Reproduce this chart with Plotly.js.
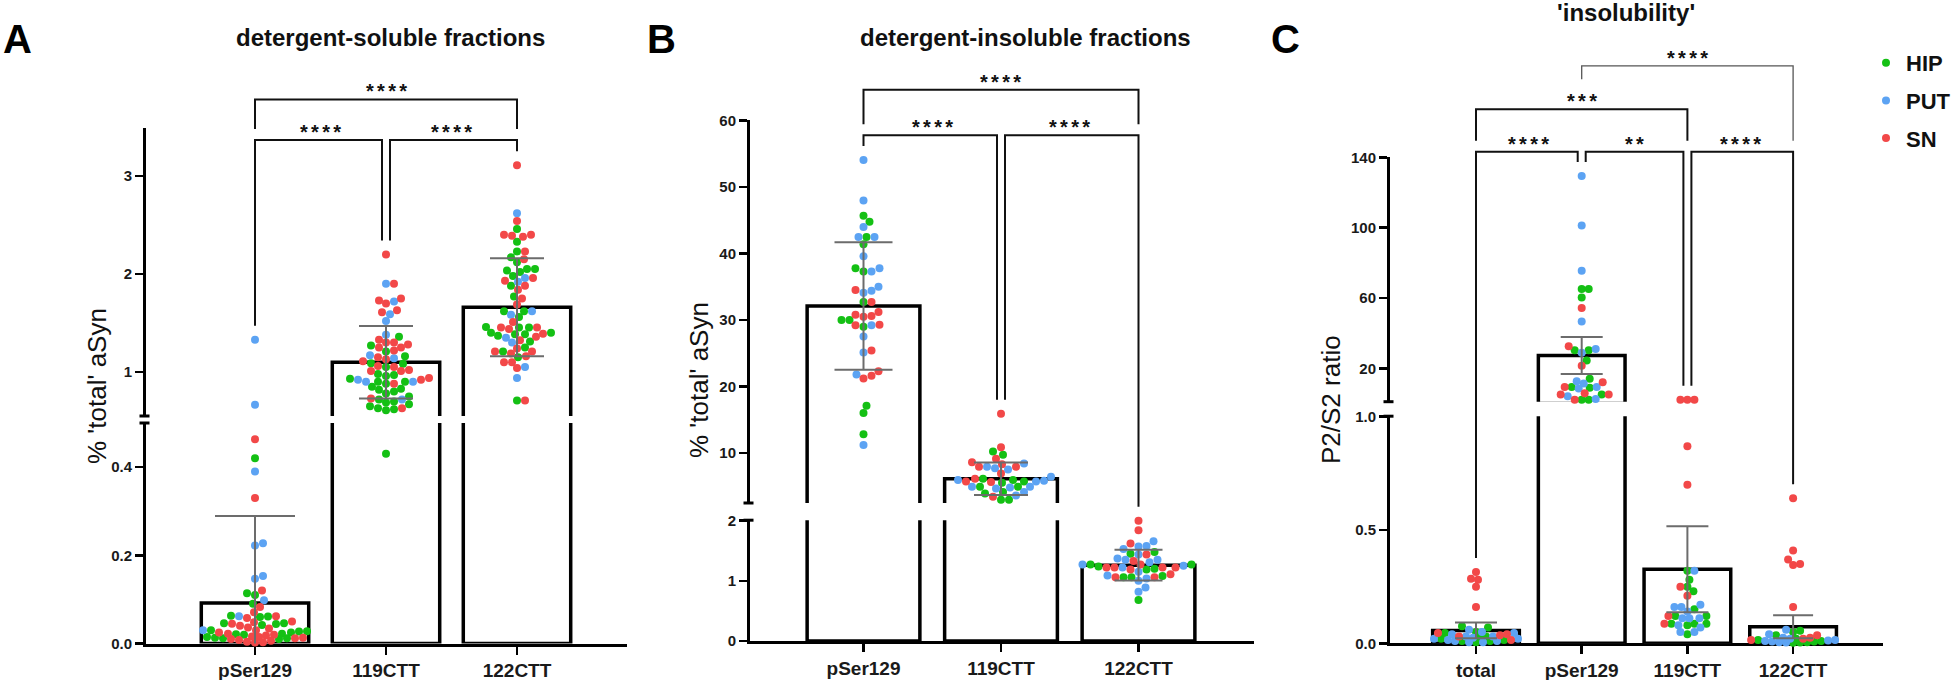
<!DOCTYPE html>
<html>
<head>
<meta charset="utf-8">
<script src="https://cdn.plot.ly/plotly-3.0.1.min.js"></script>
<style>
  body { margin: 0; background: #fff; }
  #chart { width: 1960px; height: 680px; }
</style>
</head>
<body>
<div id="chart"></div>
<script>
const W = 1960, H = 680;
const FONT = 'Arial, "Liberation Sans", sans-serif';
const REGIONS = ['HIP', 'PUT', 'SN'];
const COLORS = {HIP: '#14c014', PUT: '#5ca3f3', SN: '#f24848'};

// ---- A: detergent-soluble fractions ----
const A_CATS = ['pSer129', '119CTT', '122CTT'];
const A_MEAN = [0.092, 1.10, 1.66];
const A_SD = [0.197, 0.37, 0.50];
const A_HIP = [
  [0.114, 0.11, 0.09, 0.063, 0.061, 0.06, 0.046, 0.046, 0.044, 0.042, 0.03, 0.028, 0.027, 0.025, 0.022, 0.021, 0.02, 0.015, 0.013, 0.012, 0.012, 0.01, 0.42],
  [1.36, 1.27, 1.21, 1.16, 1.09, 1.085, 1.05, 0.98, 0.97, 0.96, 0.93, 0.90, 0.90, 0.88, 0.85, 0.83, 0.82, 0.80, 0.78, 0.75, 0.72, 0.70, 0.69, 0.67, 0.65, 0.63, 0.62, 0.61, 0.43],
  [2.46, 2.33, 2.23, 2.17, 2.12, 2.05, 2.05, 2.035, 2.02, 1.98, 1.88, 1.77, 1.62, 1.62, 1.56, 1.46, 1.455, 1.455, 1.40, 1.40, 1.385, 1.385, 1.37, 1.31, 1.25, 1.21, 1.15, 0.71]
];
const A_PUT = [
  [1.33, 0.665, 0.39, 0.227, 0.222, 0.153, 0.147, 0.098, 0.062, 0.03],
  [1.90, 1.72, 1.59, 1.52, 1.38, 1.17, 1.14, 0.92, 0.90, 0.90, 0.72],
  [2.62, 1.96, 1.92, 1.62, 1.585, 1.35, 1.30, 1.05, 0.94]
];
const A_SN = [
  [0.463, 0.33, 0.12, 0.083, 0.071, 0.062, 0.058, 0.05, 0.048, 0.045, 0.04, 0.036, 0.034, 0.03, 0.025, 0.022, 0.02, 0.018, 0.016, 0.015, 0.013, 0.012, 0.01, 0.008, 0.006, 0.004, 0.003, 0.002],
  [2.20, 1.90, 1.75, 1.73, 1.70, 1.63, 1.61, 1.33, 1.30, 1.30, 1.28, 1.25, 1.25, 1.22, 1.15, 1.13, 1.11, 1.06, 1.05, 1.02, 1.01, 1.01, 0.94, 0.92, 0.88, 0.73, 0.63],
  [3.11, 2.54, 2.40, 2.40, 2.39, 2.38, 2.23, 2.15, 1.96, 1.93, 1.88, 1.84, 1.75, 1.69, 1.51, 1.455, 1.455, 1.44, 1.39, 1.36, 1.325, 1.24, 1.21, 1.21, 1.19, 1.16, 1.10, 1.10, 1.04, 0.71]
];
const A_COMPS = [[0, 1, '****', 0], [1, 2, '****', 0], [0, 2, '****', 1]];
const A_LOW_TICKS = [0, 0.2, 0.4];
const A_LOW_TEXT = ['0.0', '0.2', '0.4'];
const A_UP_TICKS = [1, 2, 3];

// ---- B: detergent-insoluble fractions ----
const B_CATS = ['pSer129', '119CTT', '122CTT'];
const B_MEAN = [32.1, 6.1, 1.26];
const B_SD = [9.6, 2.45, 0.255];
const B_HIP = [
  [45.7, 44.8, 42.5, 41.4, 37.8, 37.3, 32.7, 30.0, 30.0, 29.0, 17.1, 16.0, 12.8],
  [10.2, 9.7, 6.1, 5.9, 5.7, 5.5, 4.9, 4.9, 4.1, 3.9, 2.95, 2.95],
  [1.48, 1.45, 1.27, 1.27, 1.24, 1.20, 1.19, 1.08, 1.06, 1.06, 0.68]
];
const B_PUT = [
  [54.1, 48.0, 44.0, 42.5, 42.5, 39.6, 37.8, 37.3, 35.0, 34.4, 34.1, 29.2, 27.5, 25.1, 21.8, 11.2],
  [8.4, 7.9, 7.7, 7.5, 6.4, 5.9, 5.8, 5.7, 4.9, 4.9, 4.8, 4.65, 4.1, 3.6],
  [1.66, 1.58, 1.57, 1.53, 1.44, 1.37, 1.35, 1.35, 1.31, 1.27, 1.25, 1.22, 1.15, 1.09, 1.04, 1.0, 0.89, 0.82]
];
const B_SN = [
  [34.5, 32.7, 31.2, 30.8, 30.6, 30.5, 29.3, 29.2, 25.4, 22.3, 21.6, 21.2],
  [15.9, 10.85, 9.1, 8.6, 8.3, 7.9, 7.9, 6.9, 6.1, 5.7, 5.6, 3.4],
  [2.0, 1.84, 1.62, 1.44, 1.33, 1.27, 1.22, 1.22, 1.22, 1.22, 1.19, 1.11, 1.06, 1.06]
];
const B_COMPS = [[0, 1, '****', 0], [1, 2, '****', 0], [0, 2, '****', 1]];
const B_LOW_TICKS = [0, 1, 2];
const B_LOW_TEXT = ['0', '1', '2'];
const B_UP_TICKS = [10, 20, 30, 40, 50, 60];

// ---- C: 'insolubility' ----
const C_CATS = ['total', 'pSer129', '119CTT', '122CTT'];
const C_MEAN = [0.057, 27.3, 0.327, 0.073];
const C_SD = [0.035, 10.5, 0.19, 0.051];
const C_HIP = [
  [0.075, 0.07, 0.05, 0.045, 0.03, 0.025, 0.02, 0.015, 0.01, 0.01, 0.005],
  [65.1, 65.1, 60.2, 30.3, 30.3, 24.4, 14.0, 9.4, 9.0, 5.1, 2.1, 2.1],
  [0.32, 0.28, 0.25, 0.23, 0.15, 0.12, 0.12, 0.086, 0.086, 0.086, 0.08, 0.04],
  [0.055, 0.05, 0.035, 0.02, 0.015, 0.01, 0.008, 0.005, 0.003, 0.002]
];
const C_PUT = [
  [0.06, 0.05, 0.045, 0.04, 0.03, 0.03, 0.025, 0.02, 0.02, 0.015, 0.01, 0.01, 0.005, 0.005],
  [129.4, 101.2, 75.5, 46.6, 31.0, 28.8, 12.7, 11.3, 9.4, 8.5, 4.1, 2.6],
  [0.32, 0.17, 0.16, 0.16, 0.14, 0.11, 0.11, 0.11, 0.08, 0.07, 0.05, 0.05],
  [0.06, 0.04, 0.025, 0.02, 0.015, 0.012, 0.01, 0.008, 0.005, 0.003]
];
const C_SN = [
  [0.315, 0.285, 0.28, 0.25, 0.16, 0.045, 0.04, 0.035, 0.03, 0.015],
  [54.3, 32.5, 21.4, 12.0, 9.4, 5.8, 5.1, 5.1, 2.1],
  [2.1, 2.1, 2.1, 0.87, 0.70, 0.25, 0.21, 0.12, 0.086],
  [0.64, 0.41, 0.37, 0.35, 0.345, 0.16, 0.035, 0.025, 0.02, 0.015]
];
const C_COMPS = [[0, 1, '****', 0], [1, 2, '**', 0], [2, 3, '****', 0], [0, 2, '***', 1], [1, 3, '****', 2]];
const C_LOW_TICKS = [0, 0.5, 1];
const C_LOW_TEXT = ['0.0', '0.5', '1.0'];
const C_UP_TICKS = [20, 60, 100, 140];

// ---- page layout of the three panels (pixels) ----
const panels = [
  {cats: A_CATS, mean: A_MEAN, sd: A_SD, pts: {HIP: A_HIP, PUT: A_PUT, SN: A_SN}, comps: A_COMPS,
   lowTicks: A_LOW_TICKS, lowText: A_LOW_TEXT, upTicks: A_UP_TICKS,
   axisX: 146, endX: 627, cat0: 255, step: 131, dotGap: 7.5, swarmHalf: 52,
   low: {top: 423, bot: 643.5, ref: [[643.5, 0], [467, 0.4]]},
   up: {top: 128, bot: 416, ref: [[176, 3], [372, 1]]},
   rowY: [140, 99.5], capHalf: [40, 27, 27],
   title: 'detergent-soluble fractions', titleX: 390, titleY: 37,
   letter: 'A', letterX: 17, letterY: 39,
   ytitle: "% 'total' aSyn", ytitleX: 97, ytitleY: 386},
  {cats: B_CATS, mean: B_MEAN, sd: B_SD, pts: {HIP: B_HIP, PUT: B_PUT, SN: B_SN}, comps: B_COMPS,
   lowTicks: B_LOW_TICKS, lowText: B_LOW_TEXT, upTicks: B_UP_TICKS,
   axisX: 750, endX: 1254, cat0: 863.5, step: 137.5, dotGap: 7.8, swarmHalf: 58,
   low: {top: 520.2, bot: 641, ref: [[641, 0], [520.7, 2]]},
   up: {top: 120.2, bot: 503, ref: [[120.7, 60], [320, 30]]},
   rowY: [135.3, 89.8], capHalf: [29, 27, 24],
   title: 'detergent-insoluble fractions', titleX: 1025, titleY: 37,
   letter: 'B', letterX: 661, letterY: 39,
   ytitle: "% 'total' aSyn", ytitleX: 699, ytitleY: 380},
  {cats: C_CATS, mean: C_MEAN, sd: C_SD, pts: {HIP: C_HIP, PUT: C_PUT, SN: C_SN}, comps: C_COMPS,
   lowTicks: C_LOW_TICKS, lowText: C_LOW_TEXT, upTicks: C_UP_TICKS,
   axisX: 1390, endX: 1883, cat0: 1476, step: 105.7, dotGap: 7, swarmHalf: 43,
   low: {top: 416.2, bot: 643.3, ref: [[643.3, 0], [416.7, 1]]},
   up: {top: 157, bot: 401.7, ref: [[157.3, 140], [368.3, 20]]},
   rowY: [151.8, 109.3, 65.9], capHalf: [21, 21, 21, 20], thinRow: 2,
   title: "'insolubility'", titleX: 1626, titleY: 12,
   letter: 'C', letterX: 1285, letterY: 39,
   ytitle: 'P2/S2 ratio', ytitleX: 1331, ytitleY: 400}
];

const fx = px => px / W;
const fy = py => 1 - py / H;
const axId = n => (n === 1 ? '' : String(n));

// value <-> pixel for one axis segment
function segSetup(seg) {
  const [[p1, v1], [p2, v2]] = seg.ref;
  const k = (v2 - v1) / (p2 - p1);
  seg.range = [v1 + (seg.bot - p1) * k, v1 + (seg.top - p1) * k];
  seg.px = v => seg.bot - (v - seg.range[0]) / (seg.range[1] - seg.range[0]) * (seg.bot - seg.top);
}

// beeswarm in pixel space: nearest free spot to the centre line within +-half,
// falling back to the least crowded spot when the row is full
function swarm(pys, D, half) {
  const order = pys.map((_, i) => i).sort((a, b) => pys[b] - pys[a]);
  const placed = [];
  const offs = new Array(pys.length).fill(0);
  const cands = [0];
  for (let c = 1; c <= half; c++) cands.push(c, -c);
  order.forEach(i => {
    let best = 0, bestD = -1;
    for (const c of cands) {
      let dmin = Infinity;
      for (const q of placed) dmin = Math.min(dmin, Math.hypot(q.x - c, q.y - pys[i]));
      if (dmin >= D) { best = c; bestD = dmin; break; }
      if (dmin > bestD + 0.01) { best = c; bestD = dmin; }
    }
    offs[i] = best;
    placed.push({x: best, y: pys[i]});
  });
  return offs;
}

const traces = [];
const shapes = [];
const annotations = [];
const layout = {
  width: W, height: H,
  margin: {l: 0, r: 0, t: 0, b: 0, pad: 0},
  paper_bgcolor: '#fff', plot_bgcolor: 'rgba(0,0,0,0)',
  showlegend: true,
  legend: {x: 1866 / W, y: fy(42), xanchor: 'left', yanchor: 'top',
           font: {family: FONT, size: 22, weight: 'bold', color: '#111'},
           bgcolor: 'rgba(0,0,0,0)', tracegroupgap: 6, itemwidth: 30},
  bargap: 0,
  shapes: shapes,
  annotations: annotations
};

panels.forEach((p, pi) => {
  segSetup(p.low);
  segSetup(p.up);
  const nl = 2 * pi + 1, nu = 2 * pi + 2;
  const xl = 'x' + axId(nl), xu = 'x' + axId(nu), yl = 'y' + axId(nl), yu = 'y' + axId(nu);
  const xRange = [(p.axisX - p.cat0) / p.step, (p.endX - p.cat0) / p.step];
  const xDom = [fx(p.axisX), fx(p.endX)];
  const idx = p.cats.map((_, i) => i);
  const segOf = v => (v >= p.up.range[0] ? 'up' : 'low');
  const catX = i => p.cat0 + i * p.step;

  const yBase = {
    showline: true, linewidth: 3, linecolor: '#000', ticks: 'outside', ticklen: 8,
    tickwidth: 2.5, tickcolor: '#000', showgrid: false, zeroline: false, fixedrange: true,
    tickfont: {family: FONT, size: 15, weight: 'bold', color: '#1a1a1a'}
  };
  layout['xaxis' + axId(nl)] = {
    domain: xDom, range: xRange, anchor: yl, showline: true, linewidth: 3, linecolor: '#000',
    ticks: 'outside', ticklen: 8, tickwidth: 2.5, tickcolor: '#000', showgrid: false,
    zeroline: false, fixedrange: true, layer: 'below traces',
    tickvals: idx, ticktext: p.cats,
    tickfont: {family: FONT, size: 19, weight: 'bold', color: '#1a1a1a'}
  };
  layout['xaxis' + axId(nu)] = {domain: xDom, range: xRange, anchor: yu, visible: false, fixedrange: true};
  layout['yaxis' + axId(nl)] = Object.assign({}, yBase, {
    domain: [fy(p.low.bot), fy(p.low.top)], range: p.low.range, anchor: xl,
    tickvals: p.lowTicks, ticktext: p.lowText
  });
  layout['yaxis' + axId(nu)] = Object.assign({}, yBase, {
    domain: [fy(p.up.bot), fy(p.up.top)], range: p.up.range, anchor: xu,
    tickvals: p.upTicks, ticktext: p.upTicks.map(String)
  });

  // bars: whole set in the lower segment, only the tall ones in the upper
  traces.push({
    type: 'bar', x: idx, y: p.mean, width: 0.82, xaxis: xl, yaxis: yl,
    marker: {color: '#fff', line: {color: '#000', width: 3.5}},
    showlegend: false, hoverinfo: 'skip'
  });
  traces.push({
    type: 'bar', x: idx, y: p.mean.map(m => (m > p.up.range[0] ? m : null)), width: 0.82,
    xaxis: xu, yaxis: yu,
    marker: {color: '#fff', line: {color: '#000', width: 3.5}},
    showlegend: false, hoverinfo: 'skip'
  });

  // points, swarmed per category
  const all = [];
  const dotTop = [];
  p.cats.forEach((c, ci) => {
    const pts = [];
    REGIONS.forEach(r => p.pts[r][ci].forEach(v => {
      const s = segOf(v);
      pts.push({v: v, r: r, s: s, py: p[s].px(v)});
    }));
    const offs = swarm(pts.map(q => q.py), p.dotGap, p.swarmHalf);
    pts.forEach((q, k) => { q.x = ci + offs[k] / p.step; });
    dotTop[ci] = Math.min(...pts.map(q => q.py)) - 4;
    all.push(...pts);
  });
  ['low', 'up'].forEach(s => {
    REGIONS.forEach(r => {
      const sel = all.filter(q => q.s === s && q.r === r);
      traces.push({
        type: 'scatter', mode: 'markers', name: r, legendgroup: r,
        x: sel.map(q => q.x), y: sel.map(q => q.v),
        xaxis: s === 'low' ? xl : xu, yaxis: s === 'low' ? yl : yu,
        marker: {size: 8, color: COLORS[r]}, cliponaxis: false,
        showlegend: pi === 2 && s === 'low', hoverinfo: 'skip'
      });
    });
  });

  // mean ± SD
  idx.forEach(i => {
    const s = segOf(p.mean[i]);
    traces.push({
      type: 'scatter', mode: 'markers', x: [i], y: [p.mean[i]],
      xaxis: s === 'low' ? xl : xu, yaxis: s === 'low' ? yl : yu,
      marker: {size: 1, opacity: 0},
      error_y: {type: 'data', array: [p.sd[i]], color: '#6c6c6c', thickness: 2, width: p.capHalf[i]},
      showlegend: false, hoverinfo: 'skip'
    });
  });

  // axis break caps
  [p.up.bot, p.low.top].forEach(py => {
    shapes.push({type: 'line', xref: 'paper', yref: 'paper',
      x0: fx(p.axisX - 6.5), x1: fx(p.axisX + 3.5), y0: fy(py), y1: fy(py),
      line: {color: '#000', width: 3}});
  });

  // significance brackets
  p.comps.forEach(([a, b, label, row]) => {
    const Ly = p.rowY[row];
    const sameRow = p.comps.filter(d => d[3] === row);
    const xa = catX(a) + (sameRow.some(d => d[1] === a) ? 4 : 0);
    const xb = catX(b) - (sameRow.some(d => d[0] === b) ? 4 : 0);
    const legEnd = g => {
      let top = dotTop[g] - 10;
      p.comps.forEach(d => {
        if (d[3] >= row) return;
        if (d[0] <= g && g <= d[1]) top = Math.min(top, p.rowY[d[3]] - 11);
        const lc = (catX(d[0]) + catX(d[1])) / 2;
        if (Math.abs(lc - catX(g)) < 22) top = Math.min(top, p.rowY[d[3]] - 30);
      });
      return top;
    };
    const thin = p.thinRow === row;
    shapes.push({
      type: 'path', xref: 'paper', yref: 'paper',
      path: 'M' + fx(xa) + ',' + fy(legEnd(a)) + ' L' + fx(xa) + ',' + fy(Ly) +
            ' L' + fx(xb) + ',' + fy(Ly) + ' L' + fx(xb) + ',' + fy(legEnd(b)),
      line: {color: thin ? '#555' : '#111', width: thin ? 1.3 : 2}
    });
    annotations.push({
      xref: 'paper', yref: 'paper', x: fx((catX(a) + catX(b)) / 2), y: fy(Ly - 8),
      xanchor: 'center', yanchor: 'middle', showarrow: false,
      text: label.split('').join('\u2006'),
      font: {family: FONT, size: 20, weight: 'bold', color: '#111'}
    });
  });

  // titles and labels
  annotations.push({xref: 'paper', yref: 'paper', x: fx(p.titleX), y: fy(p.titleY),
    xanchor: 'center', yanchor: 'middle', showarrow: false, text: p.title,
    font: {family: FONT, size: 24, weight: 'bold', color: '#111'}});
  annotations.push({xref: 'paper', yref: 'paper', x: fx(p.letterX), y: fy(p.letterY),
    xanchor: 'center', yanchor: 'middle', showarrow: false, text: p.letter,
    font: {family: FONT, size: 40, weight: 'bold', color: '#000'}});
  annotations.push({xref: 'paper', yref: 'paper', x: fx(p.ytitleX), y: fy(p.ytitleY),
    xanchor: 'center', yanchor: 'middle', showarrow: false, text: p.ytitle, textangle: -90,
    font: {family: FONT, size: 26, color: '#111'}});
});

Plotly.newPlot('chart', traces, layout, {staticPlot: true, displayModeBar: false});
</script>
</body>
</html>
